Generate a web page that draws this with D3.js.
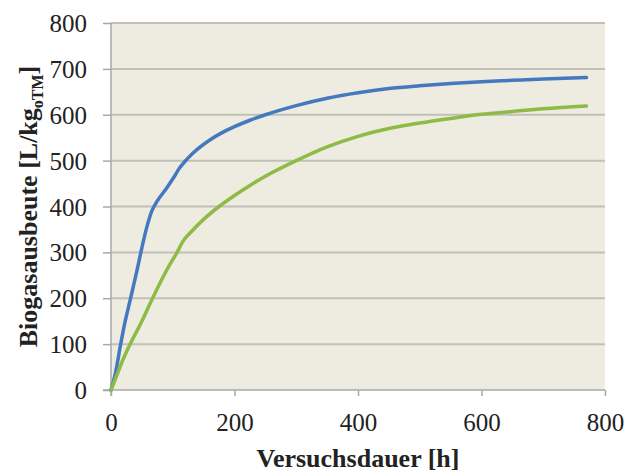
<!DOCTYPE html>
<html>
<head>
<meta charset="utf-8">
<script src="https://cdn.jsdelivr.net/npm/d3@7"></script>
<style>
  body { margin: 0; background: #fff; }
  svg { display: block; font-family: "Liberation Serif", "Times New Roman", serif; }
</style>
</head>
<body>
<div id="chart"></div>
<script>
// Versuchsdauer [h] / Biogasausbeute [L/kg oTM]
const blueHours  = [0, 8, 15, 23, 31, 42, 50, 58, 66, 74, 90, 101, 110, 125, 140, 160, 180, 200, 225, 250, 300, 350, 400, 450, 500, 550, 600, 650, 700, 770];
const blueYield  = [0, 42, 95, 150, 196, 260, 310, 355, 390, 410, 440, 462, 482, 506, 525, 545, 561, 574, 588, 600, 620, 636, 648, 657, 663, 668, 672, 675, 678, 681];

const greenHours = [0, 10, 20, 31, 50, 66, 80, 98, 105, 117, 130, 150, 175, 200, 225, 250, 300, 350, 400, 450, 500, 550, 600, 650, 700, 770];
const greenYield = [0, 34, 68, 100, 150, 196, 235, 280, 295, 325, 345, 372, 400, 424, 446, 466, 500, 530, 553, 570, 582, 592, 601, 607, 613, 619];

const xTicks = [0, 200, 400, 600, 800];
const yTicks = [0, 100, 200, 300, 400, 500, 600, 700, 800];

const series = [
  { name: "blau", color: "#4479c0", values: blueHours.map((h, i) => [h, blueYield[i]]) },
  { name: "grün", color: "#8dbb45", values: greenHours.map((h, i) => [h, greenYield[i]]) }
];

const W = 637, H = 476;
const margin = { top: 23, right: 32, bottom: 86, left: 111 };
const width = W - margin.left - margin.right;
const height = H - margin.top - margin.bottom;

const svg = d3.select("#chart").append("svg")
  .attr("width", W)
  .attr("height", H);

const g = svg.append("g")
  .attr("transform", `translate(${margin.left},${margin.top})`);

const x = d3.scaleLinear().domain([0, 800]).range([0, width]);
const y = d3.scaleLinear().domain([0, 800]).range([height, 0]);

// Hintergrund der Zeichenfläche
g.append("rect")
  .attr("width", width)
  .attr("height", height)
  .attr("fill", "#eeebe0");

// Gitterlinien
g.selectAll(".grid")
  .data(yTicks.filter(d => d > 0))
  .join("line")
  .attr("x1", 0)
  .attr("x2", width)
  .attr("y1", d => y(d))
  .attr("y2", d => y(d))
  .attr("stroke", "#c2bfb8")
  .attr("stroke-width", 2);

// Achsen
const yAxis = g.append("g")
  .call(d3.axisLeft(y).tickValues(yTicks).tickSize(8).tickPadding(16).tickFormat(d3.format("d")));
const xAxis = g.append("g")
  .attr("transform", `translate(0,${height})`)
  .call(d3.axisBottom(x).tickValues(xTicks).tickSize(6).tickPadding(17).tickFormat(d3.format("d")));

[yAxis, xAxis].forEach(ax => {
  ax.select(".domain").attr("stroke", "#a8a8a8").attr("stroke-width", 1.5);
  ax.selectAll(".tick line").attr("stroke", "#a8a8a8").attr("stroke-width", 1.5);
  ax.selectAll(".tick text")
    .attr("fill", "#222")
    .style("font-family", "'Liberation Serif', 'Times New Roman', serif")
    .style("font-size", "25px");
});
yAxis.selectAll(".tick text").attr("dy", "0.34em");
xAxis.select(".domain").attr("d", `M-8,0H${width}`);
yAxis.select(".domain").attr("d", `M0,0V${height + 6}`);

// Kurven
const line = d3.line()
  .x(d => x(d[0]))
  .y(d => y(d[1]))
  .curve(d3.curveMonotoneX);

g.selectAll(".series")
  .data(series)
  .join("path")
  .attr("fill", "none")
  .attr("stroke", d => d.color)
  .attr("stroke-width", 3.5)
  .attr("stroke-linecap", "round")
  .attr("stroke-linejoin", "round")
  .attr("d", d => line(d.values));

// Achsentitel
svg.append("text")
  .attr("x", margin.left + width / 2)
  .attr("y", 467)
  .attr("text-anchor", "middle")
  .attr("font-weight", "bold")
  .attr("font-size", "26px")
  .attr("fill", "#222")
  .text("Versuchsdauer [h]");

const yTitle = svg.append("text")
  .attr("transform", `translate(37,${margin.top + height / 2}) rotate(-90)`)
  .attr("text-anchor", "middle")
  .attr("font-weight", "bold")
  .attr("font-size", "26px")
  .attr("fill", "#222");
yTitle.append("tspan").text("Biogasausbeute [L/kg");
yTitle.append("tspan").attr("dy", 6).attr("font-size", "16px").text("oTM");
yTitle.append("tspan").attr("dy", -6).text("]");
</script>
</body>
</html>
